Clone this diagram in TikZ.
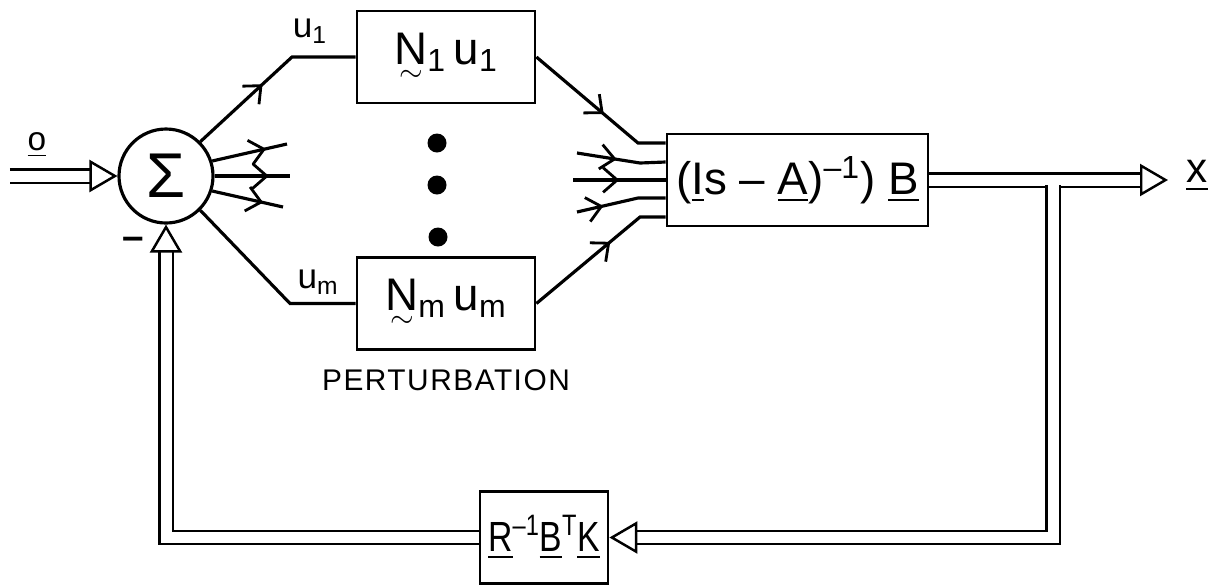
\documentclass[tikz,border=0pt]{standalone}
\usepackage{amsmath}
\usepackage{fontspec}
\setmainfont{Liberation Sans}
\usetikzlibrary{arrows.meta,positioning,calc,decorations.markings}

\newcommand{\undl}[1]{\underline{#1}}
\newcommand{\tld}[1]{\ooalign{#1\cr\hidewidth\raisebox{-9.5pt}{\fontsize{16}{16}\selectfont$\sim$}\hidewidth\cr}}

\tikzset{
  block/.style={draw,line width=1.6pt,minimum width=#1,minimum height=1.84cm,inner sep=0pt,font=\fontsize{26}{28}\selectfont},
  wire/.style={line width=1.8pt},
  midarrow/.style={postaction={decorate},decoration={markings,mark=at position #1 with {\arrow{Straight Barb[length=8pt,width=14pt,line width=1.6pt]}}}},
  midarrow/.default=0.6,
  dblarrow/.style={double,double distance=0.22cm,line width=1.4pt,-{Triangle[open,fill=white,length=0.56cm,width=0.64cm,line width=1.4pt]}},
}

\begin{document}
\begin{tikzpicture}[
    lab/.style={font=\fontsize{20}{22}\selectfont},
    dot/.style={circle,fill,inner sep=0pt,minimum size=0.38cm},
  ]
    \useasboundingbox (0,0) rectangle (24.22,-11.68);
    % summing junction
    \node[draw,circle,line width=1.8pt,minimum size=1.88cm,inner sep=0pt,font=\fontsize{36}{38}\selectfont] (sum) at (3.32,-3.52) {Σ};
    \coordinate (in) at (0.2,-3.52);
    \draw[dblarrow] (in) -- (sum.west);
    \node[font=\fontsize{19}{20}\selectfont] (olab) at (0.74,-2.9) {\undl{o}};
    \node[font=\bfseries\fontsize{22}{24}\selectfont] (minus) at (2.66,-4.86) {–};
    % perturbation blocks
    \node[block=3.56cm] (n1) at (8.92,-1.14) {\tld{N}\textsubscript{1}\,u\textsubscript{1}};
    \node[block=3.56cm] (nm) at (8.92,-6.07) {\tld{N}\textsubscript{m}\,u\textsubscript{m}};
    \node[font=\fontsize{17}{19}\selectfont\addfontfeature{LetterSpace=5}] (pert) at (8.92,-7.6) {PERTURBATION};
    \node[dot] (d1) at (8.74,-2.86) {};
    \node[dot] (d2) at (8.74,-3.7) {};
    \node[dot] (d3) at (8.76,-4.74) {};
    % plant
    \node[block=5.22cm] (main) at (15.95,-3.6) {(\undl{I}s – \undl{A})\textsuperscript{–1}) \undl{B}};
    % feedback gain
    \node[block=2.56cm] (rbox) at (10.88,-10.75) {\scalebox{0.8}[1]{\fontsize{24}{26}\selectfont\undl{R}\textsuperscript{–1}\undl{B}\textsuperscript{T}\undl{K}}};
    % branches out of the sum
    \coordinate (u1c) at (5.84,-1.14);
    \coordinate (umc) at (5.8,-6.07);
    \draw[wire,midarrow=0.45] (sum.45) -- (u1c) -- (n1.west);
    \draw[wire] (sum.-45) -- (umc) -- (nm.west);
    \node[lab] (u1lab) at (6.2,-0.62) {u\textsubscript{1}};
    \node[lab] (umlab) at (6.36,-5.64) {u\textsubscript{m}};
    \coordinate (f1) at (5.74,-2.88);
    \coordinate (f2) at (5.8,-3.52);
    \coordinate (f3) at (5.66,-4.14);
    \draw[wire,midarrow=0.72] (sum.18) -- (f1);
    \draw[wire,midarrow=0.72] (sum.east) -- (f2);
    \draw[wire,midarrow=0.72] (sum.-18) -- (f3);
    % inputs of the plant
    \coordinate (in1) at ($(main.west)+(0,0.74)$);
    \coordinate (in2) at ($(main.west)+(0,0.36)$);
    \coordinate (in3) at (main.west);
    \coordinate (in4) at ($(main.west)+(0,-0.36)$);
    \coordinate (in5) at ($(main.west)+(0,-0.74)$);
    \coordinate (g2) at (11.54,-3.06);
    \coordinate (g3) at (11.46,-3.6);
    \coordinate (g4) at (11.54,-4.24);
    \draw[wire,midarrow=0.55] (n1.east) -- (12.76,-2.86) -- (in1);
    \draw[wire,midarrow=0.45] (g2) -- (12.8,-3.26) -- (in2);
    \draw[wire,midarrow=0.5] (g3) -- (in3);
    \draw[wire,midarrow=0.3] (g4) -- (12.76,-3.96) -- (in4);
    \draw[wire,midarrow=0.6] (nm.east) -- (12.8,-4.34) -- (in5);
    % output and feedback
    \coordinate (xout) at (23.36,-3.6);
    \coordinate (br) at (21.06,-3.6);
    \draw[dblarrow] (main.east) -- (xout);
    \node[font=\fontsize{24}{26}\selectfont] (xlab) at (23.94,-3.52) {\undl{x}};
    \draw[dblarrow] (br) |- (rbox.east);
    \draw[white,line width=0.2cm] ($(br)+(-0.3,0)$) -- ($(br)+(0.3,0)$);
    \draw[dblarrow] (rbox.west) -| (sum.south);
  \end{tikzpicture}
\end{document}
